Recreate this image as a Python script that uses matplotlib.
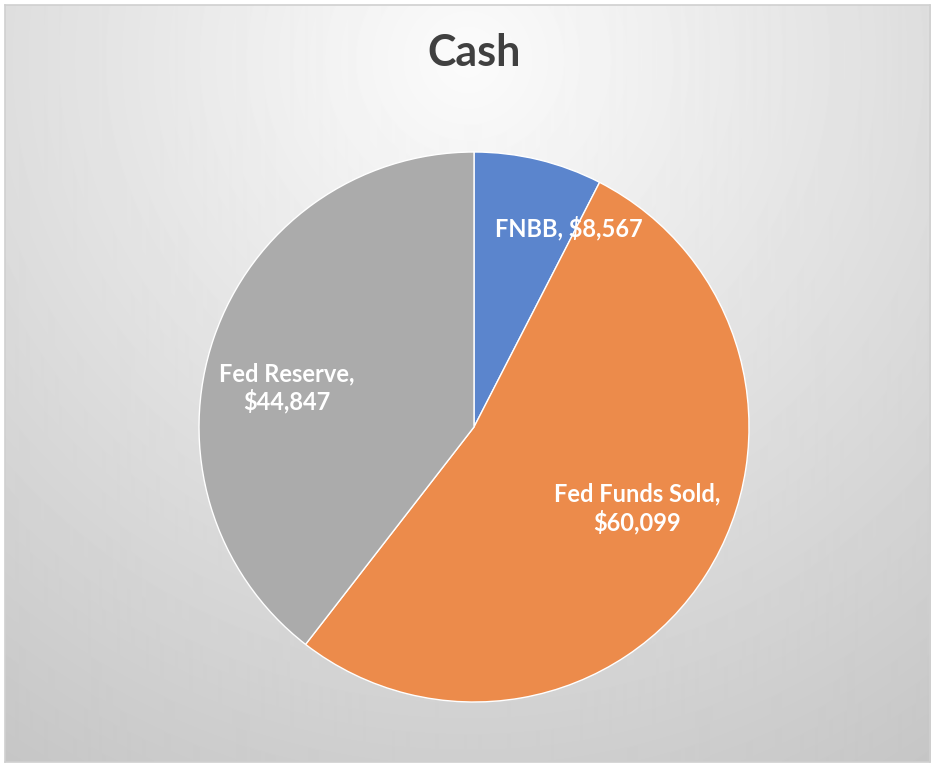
import numpy as np
import matplotlib.pyplot as plt

categories = ["FNBB", "Fed Funds Sold", "Fed Reserve"]
values = [8567, 60099, 44847]
label_text = ["FNBB, $8,567", "Fed Funds Sold,\n$60,099", "Fed Reserve,\n$44,847"]
colors = ["#5B85CD", "#EC8B4B", "#ABABAB"]
# where excel put the data labels (pie units)
label_pos = [(0.345, 0.724), (0.593, -0.295), (-0.680, 0.142)]

W, H = 934, 767
fig = plt.figure(figsize=(W / 100, H / 100), dpi=100)
fig.patch.set_facecolor("white")

# chart area frame with radial gradient
x0, y0, x1, y1 = 5, 5, 930, 762
bg = fig.add_axes([x0 / W, 1 - y1 / H, (x1 - x0) / W, (y1 - y0) / H])
yy, xx = np.mgrid[y0:y1, x0:x1]
d = np.hypot(xx - 467, yy - 60)
shade = 0.985 - 0.2 * d / 800
bg.imshow(shade, cmap="gray", vmin=0, vmax=1, aspect="auto", interpolation="bilinear")
bg.set_xticks([])
bg.set_yticks([])
for s in bg.spines.values():
    s.set_color("#d0d0d0")
    s.set_linewidth(1.2)

cx, cy, r = 474, 427, 275
ax = fig.add_axes([(cx - r) / W, 1 - (cy + r) / H, 2 * r / W, 2 * r / H])
ax.pie(values, colors=colors, startangle=90, counterclock=False,
       wedgeprops=dict(edgecolor="white", linewidth=1))
ax.set_xlim(-1, 1)
ax.set_ylim(-1, 1)
ax.axis("off")

for txt, (lx, ly) in zip(label_text, label_pos):
    ax.text(lx, ly, txt, ha="center", va="center", color="white",
            fontsize=17, fontweight="bold", family="Lato", linespacing=1.2)

fig.text(474 / W, 1 - 53 / H, "Cash", ha="center", va="center", color="#404040",
         fontsize=31, fontweight="bold", family="Lato")

fig.savefig("out.png", dpi=100)
